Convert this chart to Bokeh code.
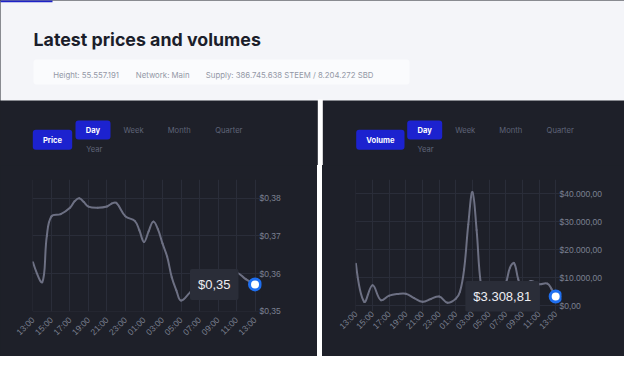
import math
from bokeh.plotting import figure
from bokeh.layouts import column, row
from bokeh.models import Range1d, FixedTicker, Label, Spacer
from bokeh.core.properties import value
from bokeh.embed import file_html
from bokeh.resources import INLINE

# ---------------- data ----------------
title_text = "Latest prices and volumes"
info_items = ["Height: 55.557.191", "Network: Main",
              "Supply: 386.745.638 STEEM / 8.204.272 SBD"]
period_buttons = ["Day", "Week", "Month", "Quarter", "Year"]

time_ticks = [0, 2, 4, 6, 8, 10, 12, 14, 16, 18, 20, 22, 24]
time_labels = ["13:00", "15:00", "17:00", "19:00", "21:00", "23:00", "01:00",
               "03:00", "05:00", "07:00", "09:00", "11:00", "13:00"]

price_hours = [0, 1, 1.5, 2, 3, 4, 4.5, 5, 5.5, 6, 7, 8, 8.5, 9, 10, 11, 11.5, 12,
               12.5, 13, 13.5, 14, 14.5, 15, 15.5, 16, 17, 18, 19, 20, 21, 22, 23, 24]
price_values = [0.3630, 0.3577, 0.3700, 0.3752, 0.3758, 0.3775, 0.3792, 0.3800,
                0.3790, 0.3778, 0.3775, 0.3778, 0.3786, 0.3788, 0.3752, 0.3740,
                0.3715, 0.3684, 0.3712, 0.3738, 0.3718, 0.3680, 0.3645, 0.3590,
                0.3555, 0.3528, 0.3550, 0.3570, 0.3585, 0.3595, 0.3600, 0.3603,
                0.3585, 0.3571]
price_ticks = [0.35, 0.36, 0.37, 0.38]
price_tick_labels = ["$0,35", "$0,36", "$0,37", "$0,38"]

volume_hours = [0, 1, 2, 3, 4, 5, 6, 7, 8, 9, 10, 11, 12, 12.5, 13, 13.5,
                14, 14.5, 15, 15.5, 16, 17, 18, 18.5, 19, 19.5, 20, 21, 22, 23, 23.5, 24]
volume_values = [15000, 1400, 7300, 2000, 3600, 4200, 4300, 2700, 1400,
                 2400, 3300, 1100, 2500, 5000, 13000, 29000, 40500, 27000, 8000,
                 4000, 2500, 3000, 8000, 13500, 15200, 9500, 6000, 8800, 7700, 7900,
                 6000, 3308.81]
volume_ticks = [0, 10000, 20000, 30000, 40000]
volume_tick_labels = ["$0,00", "$10.000,00", "$20.000,00", "$30.000,00", "$40.000,00"]

# ---------------- styles ----------------
HEADER_BG = "#f4f5f9"
INFO_BG = "#fafbfd"
PANEL_BG = "#1e2029"
GRID = "#2a2d39"
LINE = "#6d7083"
TICK_TXT = "#7c8091"
BTN = "#1c22cf"
BTN_TXT_OFF = "#5f6478"
TIP_BG = "#2a2d38"
DOT = "#1f6ff0"
UI_FONT = "Inter"
CH_FONT = "Liberation Sans"


def money(v):
    v = math.floor(v * 100 + 1e-9) / 100
    s = f"{v:,.2f}"
    return "$" + s.replace(",", "X").replace(".", ",").replace("X", ".")


def spline_segments(xs, ys, kx, ky, t=0.4):
    """Chart.js-style smooth rendering: bezier control points for the data."""
    n = len(xs)
    prev_c = [(xs[i], ys[i]) for i in range(n)]
    next_c = [(xs[i], ys[i]) for i in range(n)]
    for i in range(1, n - 1):
        px, py = xs[i - 1] * kx, ys[i - 1] * ky
        mx, my = xs[i] * kx, ys[i] * ky
        nx, ny = xs[i + 1] * kx, ys[i + 1] * ky
        d01 = math.hypot(mx - px, my - py)
        d12 = math.hypot(nx - mx, ny - my)
        tot = d01 + d12
        fa = t * d01 / tot if tot else 0
        fb = t * d12 / tot if tot else 0
        prev_c[i] = ((mx - fa * (nx - px)) / kx, (my - fa * (ny - py)) / ky)
        next_c[i] = ((mx + fb * (nx - px)) / kx, (my + fb * (ny - py)) / ky)
    seg = dict(x0=xs[:-1], y0=ys[:-1], x1=xs[1:], y1=ys[1:],
               cx0=[c[0] for c in next_c[:-1]], cy0=[c[1] for c in next_c[:-1]],
               cx1=[c[0] for c in prev_c[1:]], cy1=[c[1] for c in prev_c[1:]])
    return seg


# ---------------- header / decoration (pixel coordinates) ----------------
hdr = figure(width=624, height=165, x_range=Range1d(0, 624), y_range=Range1d(165, 0),
             toolbar_location=None, output_backend="svg", min_border=0,
             x_axis_location=None, y_axis_location=None, outline_line_color=None)
hdr.grid.visible = False
hdr.background_fill_color = PANEL_BG
hdr.border_fill_color = PANEL_BG

hdr.quad(left=[-5], right=[630], top=[-5], bottom=[100], fill_color=HEADER_BG, line_color=None)
hdr.quad(left=[317.3], right=[322.3], top=[99], bottom=[172], fill_color="white", line_color=None)
hdr.quad(left=[-5], right=[52], top=[-5], bottom=[1.8], fill_color="#1d22c8", line_color=None)
hdr.quad(left=[33], right=[409], top=[59], bottom=[84], fill_color=INFO_BG, line_color=None,
         border_radius=3)

hdr.text(x=[33], y=[39], text=[title_text], text_font=value(UI_FONT), text_font_size="17.8px",
         text_font_style="bold", text_color="#1b1e2b", text_baseline="alphabetic")
hdr.text(x=[52.7, 135.3, 205.3], y=[74, 74, 74], text=info_items, text_font=value(UI_FONT),
         text_font_size="7.8px", text_color="#9398a6", text_baseline="alphabetic")

for name, main_l, main_r, day_l, day_r, cx in [
        ("Price", 32.3, 71.7, 75, 110, [92.5, 133, 178.7, 228.3, 93.8]),
        ("Volume", 355.7, 404, 406.7, 441.7, [424.2, 464.7, 510.3, 559.7, 425])]:
    hdr.quad(left=[main_l, day_l], right=[main_r, day_r], top=[129.3, 120],
             bottom=[149.3, 139], fill_color=BTN, line_color=None, border_radius=3)
    hdr.text(x=[(main_l + main_r) / 2, cx[0]], y=[139.5, 129.6], text=[name, period_buttons[0]],
             text_font=value(UI_FONT), text_font_size="7.6px", text_font_style="bold",
             text_color="white", text_align="center", text_baseline="middle")
    hdr.text(x=cx[1:], y=[129.6, 129.6, 129.6, 149.2], text=period_buttons[1:],
             text_font=value(UI_FONT), text_font_size="7.6px", text_color=BTN_TXT_OFF,
             text_align="center", text_baseline="middle")


# ---------------- charts ----------------
def make_chart(width, b_left, b_right, b_bottom, x_standoff, hours, values, y_range,
               yticks, ylabels, kx, ky):
    p = figure(width=width, height=191, x_range=Range1d(-0.05, 24.7), y_range=y_range,
               toolbar_location=None, output_backend="svg", y_axis_location="right",
               min_border_left=b_left, min_border_right=b_right,
               min_border_top=14, min_border_bottom=b_bottom, outline_line_color=None)
    p.background_fill_color = PANEL_BG
    p.border_fill_color = PANEL_BG
    p.xaxis.ticker = FixedTicker(ticks=time_ticks)
    p.xaxis.major_label_overrides = {t: l for t, l in zip(time_ticks, time_labels)}
    p.xaxis.major_label_orientation = math.pi / 4
    p.yaxis.ticker = FixedTicker(ticks=yticks)
    p.yaxis.major_label_overrides = {t: l for t, l in zip(yticks, ylabels)}
    p.yaxis.major_label_standoff = -2
    p.xaxis.major_label_standoff = x_standoff
    for ax in p.axis:
        ax.axis_line_color = None
        ax.major_tick_line_color = None
        ax.minor_tick_line_color = None
        ax.major_tick_out = 0
        ax.major_tick_in = 0
        ax.major_label_text_font = CH_FONT
        ax.major_label_text_font_size = "8.5px"
        ax.major_label_text_color = TICK_TXT
    p.xgrid.grid_line_color = GRID
    p.ygrid.grid_line_color = GRID
    seg = spline_segments(hours, values, kx, ky)
    p.bezier(line_color=LINE, line_width=2, line_cap="round", **seg)
    p.scatter([hours[-1]], [values[-1]], size=11, fill_color="white", line_color=DOT,
              line_width=3)
    p.add_layout(Label(x=hours[-1], y=values[-1], x_offset=-16.5, text=money(values[-1]),
                       text_align="right", text_baseline="middle", text_font=CH_FONT,
                       text_font_size="13px", text_color="#eeeef2",
                       background_fill_color=TIP_BG, padding=8, border_radius=2))
    return p


left = make_chart(317, 32, 56, 45, 7, price_hours, price_values, Range1d(0.3499, 0.385),
                  price_ticks, price_tick_labels, 9.25, 3780.0)
right = make_chart(302, 33, 63, 39, 1, volume_hours, volume_values, Range1d(-2045, 45000),
                   volume_ticks, volume_tick_labels, 8.33, 132.0 / 45000)

gap = Spacer(width=5, height=191, styles={"background-color": "white"})
page = column(hdr, row(left, gap, right, styles={"background-color": PANEL_BG}),
              styles={"background-color": PANEL_BG})

open("out.html", "w").write(file_html(page, INLINE))
